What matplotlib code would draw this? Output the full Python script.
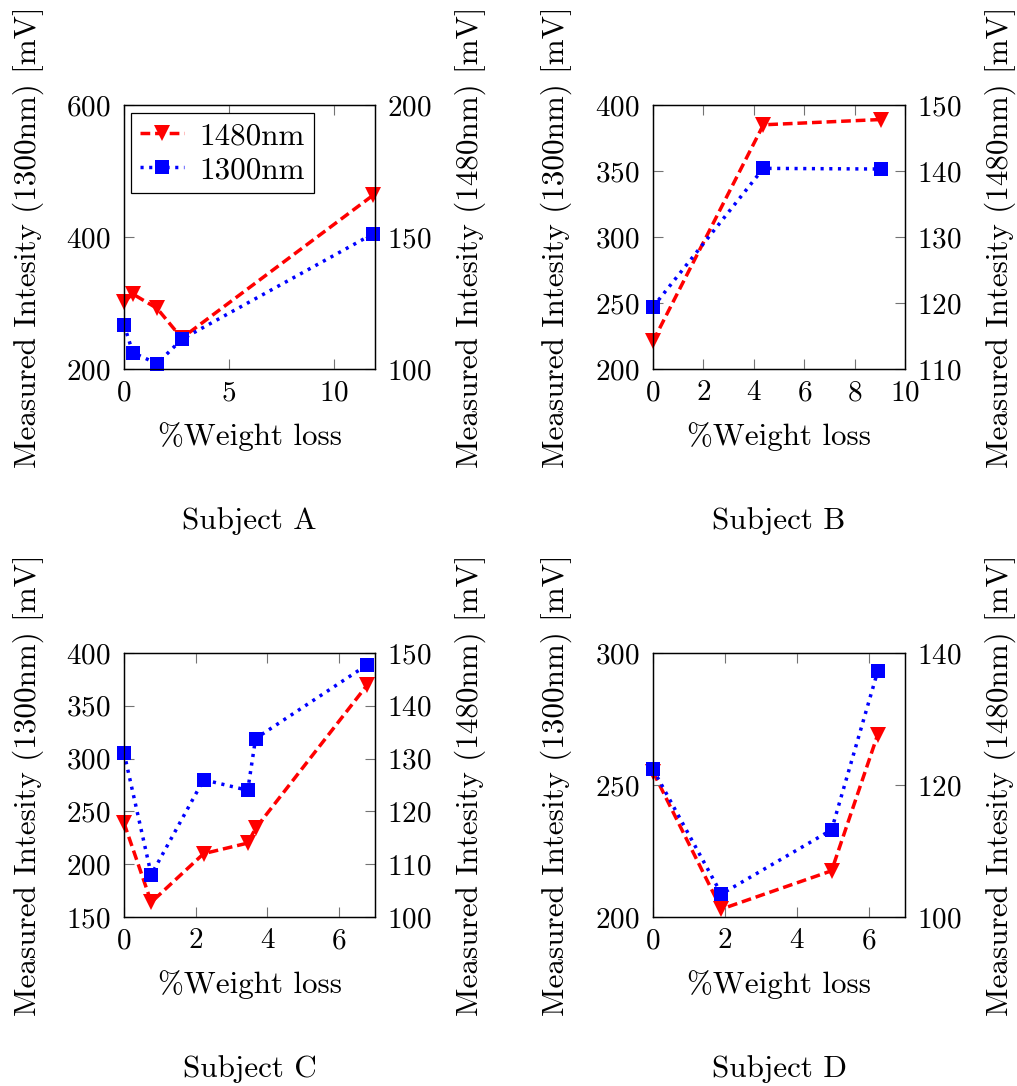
import matplotlib
matplotlib.use("Agg")
import matplotlib.pyplot as plt
from matplotlib.lines import Line2D

plt.rcParams["font.family"] = ["cmr10"]
plt.rcParams["mathtext.fontset"] = "cm"
plt.rcParams["axes.formatter.use_mathtext"] = True
plt.rcParams["font.size"] = 21

LABEL_SIZE = 22.4

# ---- data -------------------------------------------------------------
subject_a_loss = [0, 0.42, 1.57, 2.75, 11.87]
subject_a_1300 = [267, 225, 208, 245, 405]
subject_a_1480 = [125.5, 128.4, 123.0, 111.7, 165.9]

subject_b_loss = [0, 4.38, 9.03]
subject_b_1300 = [247, 352, 351.5]
subject_b_1480 = [114.2, 147.0, 147.8]

subject_c_loss = [0, 0.76, 2.22, 3.45, 3.67, 6.79]
subject_c_1300 = [305.5, 190, 280, 270, 319, 389]
subject_c_1480 = [117.8, 102.8, 112.0, 114.0, 116.8, 144.0]

subject_d_loss = [0, 1.9, 4.96, 6.24]
subject_d_1300 = [256, 208.7, 233, 293]
subject_d_1480 = [122.0, 101.2, 107.0, 127.6]

subject_names = ["Subject A", "Subject B", "Subject C", "Subject D"]
series_labels = ["1480nm", "1300nm"]

# axis ranges and ticks per panel
x_ranges = [(0, 11.95), (0, 10), (0, 7), (0, 7)]
x_ticks = [[0, 5, 10], [0, 2, 4, 6, 8, 10], [0, 2, 4, 6], [0, 2, 4, 6]]
left_ranges = [(200, 600), (200, 400), (150, 400), (200, 300)]
left_ticks = [[200, 400, 600], [200, 250, 300, 350, 400],
              [150, 200, 250, 300, 350, 400], [200, 250, 300]]
right_ranges = [(100, 200), (110, 150), (100, 150), (100, 140)]
right_ticks = [[100, 150, 200], [110, 120, 130, 140, 150],
               [100, 110, 120, 130, 140, 150], [100, 120, 140]]

panels = [
    (subject_a_loss, subject_a_1300, subject_a_1480),
    (subject_b_loss, subject_b_1300, subject_b_1480),
    (subject_c_loss, subject_c_1300, subject_c_1480),
    (subject_d_loss, subject_d_1300, subject_d_1480),
]

# ---- layout (pixels on a 1017 x 1086 canvas) ---------------------------
W, H = 1017, 1086
fig = plt.figure(figsize=(W / 100, H / 100), dpi=100)

boxes = [(124, 105, 375, 369), (653, 105, 905, 369),
         (124, 653, 375, 917), (653, 653, 905, 917)]

red_style = dict(color="#ff0000", lw=2.5, dashes=(2.8, 1.4), marker="v",
                 markersize=11, markeredgewidth=0, clip_on=False)
blue_style = dict(color="#0000ff", lw=2.5, dashes=(0.9, 1.6), marker="s",
                  markersize=10, markeredgewidth=0, clip_on=False)

tick_kw = dict(direction="in", length=7, width=0.8, color="0.45")

for i, ((x0, y0, x1, y1), (loss, v1300, v1480)) in enumerate(zip(boxes, panels)):
    rect = [x0 / W, 1 - y1 / H, (x1 - x0) / W, (y1 - y0) / H]
    ax = fig.add_axes(rect)
    ax2 = ax.twinx()
    ax.set_zorder(ax2.get_zorder() + 1)
    ax.patch.set_visible(False)

    ax2.plot(loss, v1480, **red_style)
    ax.plot(loss, v1300, **blue_style)

    ax.set_xlim(*x_ranges[i])
    ax.set_xticks(x_ticks[i])
    ax.set_ylim(*left_ranges[i])
    ax.set_yticks(left_ticks[i])
    ax2.set_ylim(*right_ranges[i])
    ax2.set_yticks(right_ticks[i])

    ax.tick_params(axis="x", top=True, bottom=True, pad=8, **tick_kw)
    ax.tick_params(axis="y", left=True, right=False, pad=10, **tick_kw)
    ax2.tick_params(axis="y", left=False, right=True, pad=8.5, **tick_kw)
    for a in (ax, ax2):
        for sp in a.spines.values():
            sp.set_linewidth(0.9)
            sp.set_color("black")

    ax.set_xlabel("%Weight loss", va="center", fontsize=LABEL_SIZE)
    ax.xaxis.set_label_coords(0.5, -68 / (y1 - y0))
    ax.set_ylabel("Measured Intesity (1300nm) [mV]", va="center",
                  fontsize=LABEL_SIZE)
    ax.yaxis.set_label_coords((28 - 124) / 251, 0.5)
    ax2.set_ylabel("Measured Intesity (1480nm) [mV]", va="center",
                   fontsize=LABEL_SIZE)
    ax2.yaxis.set_label_coords((470 - 124) / 251, 0.5)

    fig.text((x0 + x1) / 2 / W, 1 - (y1 + 152) / H, subject_names[i],
             ha="center", va="center", fontsize=LABEL_SIZE)

    if i == 0:
        handles = [Line2D([], [], **{k: v for k, v in red_style.items() if k != "clip_on"}),
                   Line2D([], [], **{k: v for k, v in blue_style.items() if k != "clip_on"})]
        leg = ax.legend(handles, series_labels, loc="upper left",
                        bbox_to_anchor=(7 / 251, 1 - 8 / 264),
                        borderaxespad=0, fancybox=False, framealpha=1,
                        edgecolor="black", handlelength=1.4,
                        handletextpad=0.5, labelspacing=0.2,
                        borderpad=0.3, fontsize=LABEL_SIZE)
        leg.get_frame().set_linewidth(0.9)

fig.savefig("out.png", dpi=100)
